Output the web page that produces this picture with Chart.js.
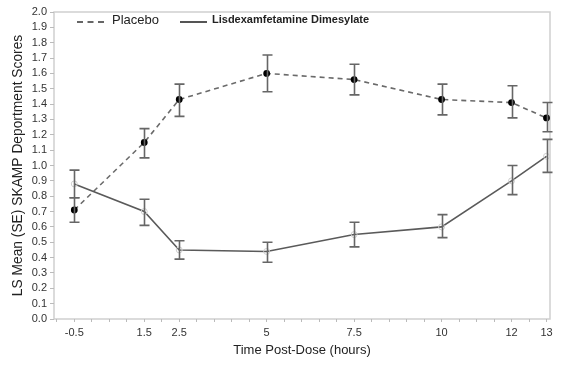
<!DOCTYPE html>
<html>
<head>
<meta charset="utf-8">
<script src="https://cdn.jsdelivr.net/npm/chart.js@4"></script>
<style>
  body { margin: 0; background: #fff; }
  #wrap { position: relative; width: 572px; height: 370px; }
  #legend { position: absolute; left: 77px; top: 12px; font-family: "Liberation Sans", Arial, sans-serif; color: #222; }
  .item { position: absolute; top: 0; white-space: nowrap; }
  .swatch { position: absolute; top: 9px; width: 27px; height: 0; }
</style>
</head>
<body>
<div id="wrap">
  <canvas id="myChart" width="572" height="370"></canvas>
  <div id="legend">
    <div class="item" style="left:0">
      <span class="swatch" style="left:0;border-top:2px dashed #666"></span>
      <span style="position:absolute;left:35px;font-size:13px;">Placebo</span>
    </div>
    <div class="item" style="left:103px">
      <span class="swatch" style="left:0;border-top:2px solid #555"></span>
      <span style="position:absolute;left:32px;top:1px;font-size:11px;font-weight:bold;">Lisdexamfetamine Dimesylate</span>
    </div>
  </div>
</div>
<script>
// time points (hours post-dose)
let hours = [-0.5, 1.5, 2.5, 5, 7.5, 10, 12, 13];

// placebo LS mean and SE bounds
let placeboMean = [0.71, 1.15, 1.43, 1.60, 1.56, 1.43, 1.41, 1.31];
let placeboLow  = [0.63, 1.05, 1.32, 1.48, 1.46, 1.33, 1.31, 1.22];
let placeboHigh = [0.79, 1.24, 1.53, 1.72, 1.66, 1.53, 1.52, 1.41];

// lisdexamfetamine LS mean and SE bounds
let ldxMean = [0.88, 0.70, 0.45, 0.44, 0.55, 0.60, 0.90, 1.06];
let ldxLow  = [0.79, 0.61, 0.39, 0.37, 0.47, 0.53, 0.81, 0.955];
let ldxHigh = [0.97, 0.78, 0.51, 0.50, 0.63, 0.68, 1.00, 1.17];

let xTickLabels = [-0.5, 1.5, 2.5, 5, 7.5, 10, 12, 13];

function toPoints(xs, ys) {
    return xs.map(function (x, i) { return { x: x, y: ys[i] }; });
}

let errorBars = {
    id: 'errorBars',
    afterDatasetsDraw: function (chart) {
        let ctx = chart.ctx;
        let xs = chart.scales.x;
        let ys = chart.scales.y;
        let sets = [[ldxLow, ldxHigh], [placeboLow, placeboHigh]];
        ctx.save();
        ctx.strokeStyle = '#666';
        ctx.lineWidth = 1.6;
        sets.forEach(function (s) {
            hours.forEach(function (h, i) {
                let px = Math.round(xs.getPixelForValue(h)) + 0.5;
                let lo = ys.getPixelForValue(s[0][i]);
                let hi = ys.getPixelForValue(s[1][i]);
                ctx.beginPath();
                ctx.moveTo(px, lo); ctx.lineTo(px, hi);
                ctx.moveTo(px - 5, lo); ctx.lineTo(px + 5, lo);
                ctx.moveTo(px - 5, hi); ctx.lineTo(px + 5, hi);
                ctx.stroke();
            });
        });
        ctx.restore();
    }
};

let frame = {
    id: 'frame',
    beforeDraw: function (chart) {
        let a = chart.chartArea;
        let ctx = chart.ctx;
        ctx.save();
        ctx.strokeStyle = '#cfcfcf';
        ctx.lineWidth = 1.5;
        ctx.strokeRect(a.left, a.top, a.right - a.left, a.bottom - a.top);
        ctx.restore();
    }
};

let ctx = document.getElementById('myChart').getContext('2d');
new Chart(ctx, {
    type: 'line',
    data: {
        datasets: [{
            label: 'Lisdexamfetamine Dimesylate',
            data: toPoints(hours, ldxMean),
            borderColor: '#5a5a5a',
            borderWidth: 1.6,
            pointRadius: 3,
            pointBackgroundColor: 'rgba(0,0,0,0)',
            pointBorderColor: '#cfcfcf',
            pointBorderWidth: 1,
            fill: false,
            tension: 0
        }, {
            label: 'Placebo',
            data: toPoints(hours, placeboMean),
            borderColor: '#6a6a6a',
            borderWidth: 1.6,
            borderDash: [5, 4],
            pointRadius: 2.6,
            pointBackgroundColor: '#000',
            pointBorderColor: '#000',
            fill: false,
            tension: 0
        }]
    },
    options: {
        responsive: false,
        animation: false,
        layout: { padding: { top: 12, right: 22, left: 10, bottom: 12 } },
        plugins: { legend: { display: false }, tooltip: { enabled: false } },
        scales: {
            x: {
                type: 'linear',
                min: -1.08,
                max: 13.1,
                border: { display: false },
                grid: { drawOnChartArea: false, tickLength: 3, color: '#bbb' },
                afterBuildTicks: function (scale) {
                    let t = [];
                    for (let v = -1; v <= 13; v += 0.5) t.push({ value: v });
                    scale.ticks = t;
                },
                ticks: {
                    autoSkip: false,
                    maxRotation: 0,
                    padding: 4,
                    color: '#333',
                    font: { family: 'Liberation Sans, Arial', size: 11 },
                    callback: function (v) {
                        return xTickLabels.indexOf(v) >= 0 ? String(v) : '';
                    }
                },
                title: {
                    display: true,
                    text: 'Time Post-Dose (hours)',
                    color: '#222',
                    font: { family: 'Liberation Sans, Arial', size: 13 },
                    padding: { top: 4, bottom: 0 }
                },
                afterFit: function (scale) { scale.height = 39; }
            },
            y: {
                min: 0,
                max: 2.0,
                border: { display: false },
                grid: { drawOnChartArea: false, tickLength: 4, color: '#bbb' },
                ticks: {
                    stepSize: 0.1,
                    autoSkip: false,
                    padding: 3,
                    color: '#333',
                    font: { family: 'Liberation Sans, Arial', size: 11 },
                    callback: function (v) { return Number(v).toFixed(1); }
                },
                title: {
                    display: true,
                    text: 'LS Mean (SE) SKAMP Deportment Scores',
                    color: '#222',
                    font: { family: 'Liberation Sans, Arial', size: 13.8 },
                    padding: { top: 0, bottom: 2 }
                },
                afterFit: function (scale) { scale.width = 44; }
            }
        }
    },
    plugins: [frame, errorBars]
});
</script>
</body>
</html>
